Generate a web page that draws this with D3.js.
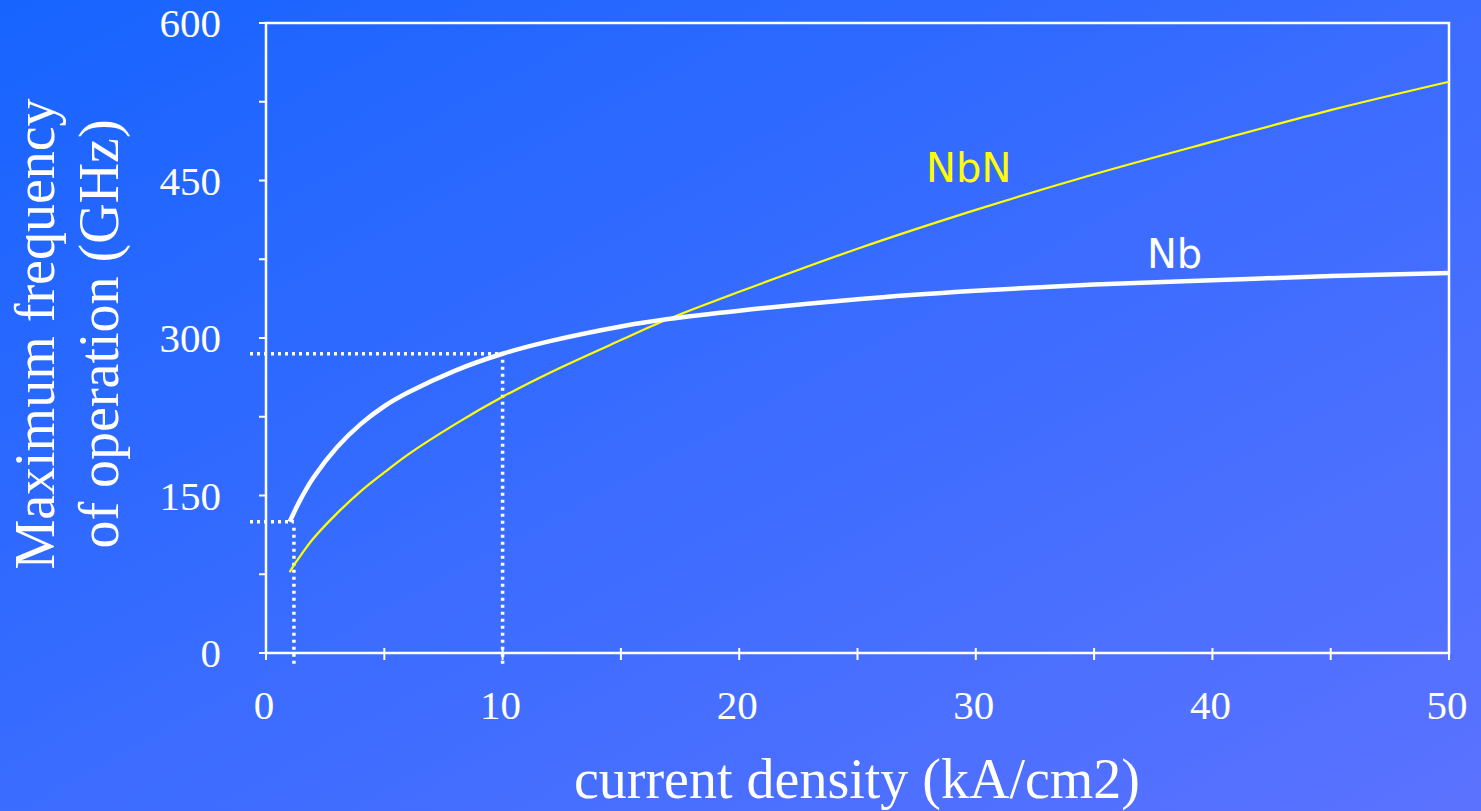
<!DOCTYPE html>
<html><head><meta charset="utf-8">
<script src="https://cdn.jsdelivr.net/npm/d3@7"></script>
<style>html,body{margin:0;padding:0;overflow:hidden;}svg{display:block;}</style>
</head><body>
<script>
const currentDensity = [1, 1.25, 1.5, 2, 3, 4, 5, 6, 8, 10, 12, 15, 17, 20, 25, 30, 35, 40, 45, 50];
const nbFreq  = [125, 137, 148, 167, 196, 218, 235, 248, 269, 285, 297, 311, 318, 326, 337, 345, 351, 355, 359, 362];
const nbnFreq = [77, 86, 94, 109, 133, 154, 172, 189, 218, 244, 267, 298, 318, 344, 385, 422, 456, 487, 517, 544];
const xTicks = [0, 10, 20, 30, 40, 50];
const xMinorTicks = [0, 5, 10, 15, 20, 25, 30, 35, 40, 45, 50];
const yTicks = [0, 150, 300, 450, 600];
const yMinorTicks = [0, 75, 150, 225, 300, 375, 450, 525, 600];
const guides = [{x: 1.18, y: 125}, {x: 10, y: 285}];
const labels = [{text: "NbN", x: 29.7, y: 448.5, color: "#ffff00"}, {text: "Nb", x: 38.4, y: 367, color: "#ffffff"}];

const W = 1481, H = 811;
const svg = d3.select("body").append("svg").attr("width", W).attr("height", H);
const defs = svg.append("defs");
const grad = defs.append("linearGradient").attr("id", "bg").attr("x1", "0").attr("y1", "0").attr("x2", "1").attr("y2", "1");
grad.append("stop").attr("offset", "0").attr("stop-color", "#1764ff");
grad.append("stop").attr("offset", "0.5").attr("stop-color", "#3a6cff");
grad.append("stop").attr("offset", "1").attr("stop-color", "#5b72ff");
svg.append("rect").attr("width", W).attr("height", H).attr("fill", "url(#bg)");

const x = d3.scaleLinear().domain([0, 50]).range([266, 1449]);
const y = d3.scaleLinear().domain([0, 600]).range([653, 23]);

const g = svg.append("g");
g.append("path").attr("d", `M${x(0)},${y(0)}V${y(600)}H${x(50)}V${y(0)}Z`)
  .attr("fill", "none").attr("stroke", "#fff").attr("stroke-width", 2.5);

g.selectAll(".yt").data(yMinorTicks).enter().append("line")
  .attr("x1", x(0) - 7).attr("x2", x(0)).attr("y1", d => y(d)).attr("y2", d => y(d))
  .attr("stroke", "#fff").attr("stroke-width", 2);
g.selectAll(".xt").data(xMinorTicks).enter().append("line")
  .attr("x1", d => x(d)).attr("x2", d => x(d))
  .attr("y1", d => (d === 0 || d === 50) ? y(0) : y(0) - 5).attr("y2", y(0) + 7)
  .attr("stroke", "#fff").attr("stroke-width", 2);

const serif = "'Liberation Serif','DejaVu Serif',serif";
g.selectAll(".yl").data(yTicks).enter().append("text")
  .attr("x", 221).attr("y", d => y(d)).attr("dy", "0.35em")
  .attr("text-anchor", "end").attr("fill", "#fff")
  .style("font-family", serif).style("font-size", "41px").text(d => d);
g.selectAll(".xl").data(xTicks).enter().append("text")
  .attr("x", d => x(d) - 2).attr("y", 705).attr("dy", "0.35em")
  .attr("text-anchor", "middle").attr("fill", "#fff")
  .style("font-family", serif).style("font-size", "41px").text(d => d);

g.append("text").attr("x", 857).attr("y", 798)
  .attr("text-anchor", "middle").attr("fill", "#fff")
  .style("font-family", serif).style("font-size", "56px").text("current density (kA/cm2)");
const yt = g.append("text").attr("transform", "translate(0,334) rotate(-90)")
  .attr("text-anchor", "middle").attr("fill", "#fff")
  .style("font-family", serif).style("font-size", "56px");
yt.append("tspan").attr("x", 0).attr("y", 54).text("Maximum frequency");
yt.append("tspan").attr("x", 0).attr("y", 118).text("of operation (GHz)");

guides.forEach(gd => {
  g.append("line").attr("x1", 250).attr("x2", x(gd.x)).attr("y1", y(gd.y)).attr("y2", y(gd.y))
    .attr("stroke", "#fff").attr("stroke-width", 3.5).attr("stroke-dasharray", "3,4");
  g.append("line").attr("x1", x(gd.x)).attr("x2", x(gd.x)).attr("y1", y(gd.y) + 6).attr("y2", 666)
    .attr("stroke", "#fff").attr("stroke-width", 3.5).attr("stroke-dasharray", "3,4");
});

const line = vals => d3.line().x((d, i) => x(currentDensity[i])).y(d => y(d)).curve(d3.curveCatmullRom.alpha(0.5))(vals);
g.append("path").attr("d", line(nbnFreq)).attr("fill", "none").attr("stroke", "#ffff00").attr("stroke-width", 2.2);
g.append("path").attr("d", line(nbFreq)).attr("fill", "none").attr("stroke", "#fff").attr("stroke-width", 4.5);

const sans = "'DejaVu Sans','Open Sans',sans-serif";
g.selectAll(".lab").data(labels).enter().append("text")
  .attr("x", d => x(d.x)).attr("y", d => y(d.y)).attr("text-anchor", "middle")
  .attr("fill", d => d.color).style("font-family", sans).style("font-size", "40px").text(d => d.text);
</script>
</body></html>
